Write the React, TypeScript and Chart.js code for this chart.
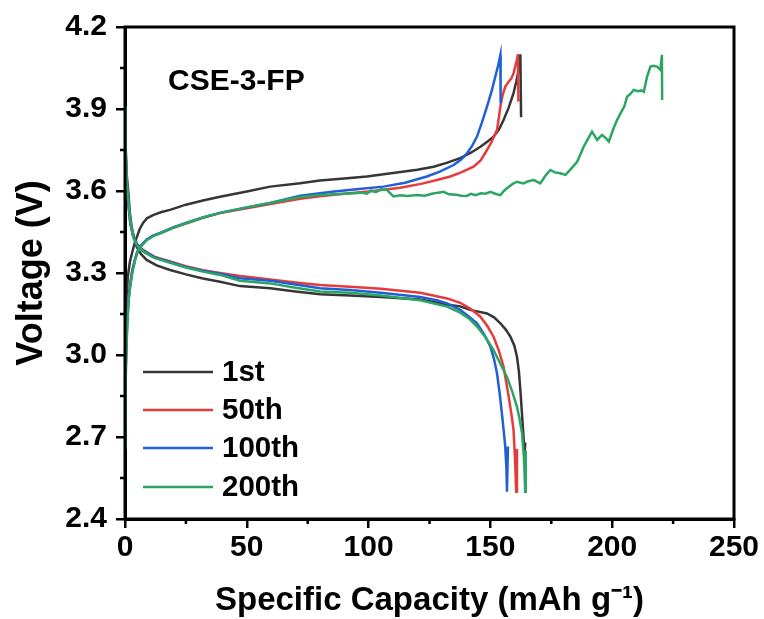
import React, { useEffect, useRef } from "react";
import { Chart, registerables } from "chart.js";

Chart.register(...registerables);

type Pt = [number, number];

const seriesLabels = ["1st", "50th", "100th", "200th"];
const seriesColors = ["#363636", "#e63b3b", "#1f60d6", "#2ba562"];

const xTicks = [0, 50, 100, 150, 200, 250];
const yTicks = [2.4, 2.7, 3.0, 3.3, 3.6, 3.9, 4.2];

const charge1st: Pt[] = [
  [0, 2.9], [0.3, 3.1], [0.7, 3.22], [1.2, 3.29], [2, 3.34], [2.9, 3.373], [4, 3.41], [4.9, 3.432],
  [6, 3.46], [7.4, 3.483], [9, 3.5], [11.5, 3.512], [15, 3.523], [18.5, 3.531], [25, 3.55], [32, 3.565],
  [39, 3.579], [50, 3.598], [59.6, 3.616], [71.9, 3.628], [80, 3.638], [90, 3.646], [99.3, 3.653],
  [110, 3.666], [120, 3.678], [126.7, 3.689], [132, 3.703], [137.6, 3.72], [142, 3.74], [145.9, 3.762],
  [149, 3.782], [151.3, 3.799], [153.5, 3.825], [155.4, 3.86], [157.5, 3.905], [159.5, 3.958],
  [160.6, 4.0], [161.6, 4.043], [162.3, 4.1], [162.6, 3.87],
];
const discharge1st: Pt[] = [
  [0, 3.85], [0.3, 3.75], [0.7, 3.66], [1.4, 3.592], [2, 3.52], [2.7, 3.47], [3.7, 3.43], [4.8, 3.396],
  [6.5, 3.37], [8.9, 3.348], [13, 3.328], [18.5, 3.311], [25, 3.295], [32, 3.28], [39, 3.268],
  [47.2, 3.252], [59.6, 3.244], [70, 3.232], [80.1, 3.222], [92.4, 3.218], [105, 3.212], [121.2, 3.203],
  [132, 3.185], [137.6, 3.178], [141.7, 3.165], [148.6, 3.152], [151.5, 3.138], [154.1, 3.116],
  [156.3, 3.093], [158.2, 3.067], [159.8, 3.035], [160.9, 2.994], [161.7, 2.94], [162.3, 2.872],
  [163, 2.78], [163.6, 2.701], [164.0, 2.63], [164.3, 2.68],
];

const charge50th: Pt[] = [
  [0, 2.8], [0.3, 2.95], [0.8, 3.1], [1.4, 3.2], [2, 3.25], [3, 3.31], [4.1, 3.348], [5, 3.375],
  [6.2, 3.396], [8.9, 3.421], [11.5, 3.436], [14.4, 3.445], [20, 3.466], [25.3, 3.482], [32, 3.502],
  [39, 3.519], [50, 3.537], [59.6, 3.552], [71.9, 3.572], [80, 3.581], [90, 3.59], [100, 3.598],
  [113, 3.612], [122, 3.627], [128, 3.64], [133.5, 3.653], [138, 3.668], [143.1, 3.689], [146, 3.712],
  [148.6, 3.75], [150.5, 3.78], [152.7, 3.823], [153.5, 3.87], [154.1, 3.909], [155, 3.95],
  [156.1, 3.982], [157.5, 4.0], [158.5, 4.01], [159.5, 4.03], [160.3, 4.06], [160.9, 4.08],
  [161.3, 4.1], [161.5, 3.927],
];
const discharge50th: Pt[] = [
  [0, 3.85], [0.3, 3.72], [0.7, 3.62], [1.4, 3.55], [2.2, 3.48], [3.4, 3.433], [5, 3.405], [7.5, 3.384],
  [12, 3.36], [18.5, 3.342], [25, 3.325], [32, 3.31], [39, 3.3], [47.2, 3.289], [59.6, 3.276],
  [70, 3.265], [80.1, 3.256], [92.4, 3.25], [105, 3.242], [121.2, 3.228], [132.2, 3.207],
  [137.6, 3.191], [142, 3.168], [145.9, 3.14], [148.8, 3.105], [151.3, 3.067], [153.5, 3.015],
  [155.4, 2.957], [156.5, 2.9], [157.5, 2.848], [158.6, 2.785], [159.5, 2.726], [160.1, 2.62],
  [160.6, 2.5], [160.9, 2.656],
];

const charge100th: Pt[] = [
  [0, 2.75], [0.3, 2.95], [0.8, 3.1], [1.4, 3.2], [2, 3.25], [3, 3.31], [4.1, 3.35], [5, 3.377],
  [6.2, 3.398], [8.9, 3.423], [11.5, 3.437], [14.4, 3.447], [20, 3.468], [25.3, 3.484], [32, 3.503],
  [39, 3.52], [50, 3.54], [59.6, 3.556], [71.9, 3.583], [85, 3.597], [95, 3.606], [106.1, 3.616],
  [115, 3.63], [123.9, 3.653], [129, 3.67], [134.9, 3.695], [138, 3.715], [140.4, 3.738],
  [142.5, 3.765], [144.5, 3.799], [146.5, 3.85], [148.6, 3.909], [150.5, 3.965], [152, 4.018],
  [153.2, 4.06], [154.1, 4.098], [154.2, 3.921],
];
const discharge100th: Pt[] = [
  [0, 3.85], [0.3, 3.73], [0.7, 3.63], [1.4, 3.55], [2.2, 3.48], [3.4, 3.433], [5, 3.404], [7.5, 3.382],
  [12, 3.358], [18.5, 3.34], [25, 3.322], [32, 3.308], [39, 3.297], [47.2, 3.281], [59.6, 3.272],
  [70, 3.258], [80.1, 3.244], [92.4, 3.238], [105, 3.228], [121.2, 3.212], [128, 3.2],
  [132.2, 3.189], [134.9, 3.177], [137.6, 3.165], [141, 3.142], [144.5, 3.116], [147.5, 3.075],
  [150, 3.03], [151.5, 2.985], [152.7, 2.933], [153.8, 2.86], [154.7, 2.787], [155.5, 2.72],
  [156.1, 2.665], [156.6, 2.58], [156.8, 2.5], [157.2, 2.665],
];

const charge200th: Pt[] = [
  [0, 2.66], [0.2, 2.85], [0.5, 3.0], [1, 3.12], [1.5, 3.2], [2, 3.24], [3, 3.3], [4.1, 3.345],
  [5, 3.372], [6.2, 3.394], [8.9, 3.42], [11.5, 3.435], [14.4, 3.445], [20, 3.466], [25.3, 3.483],
  [32, 3.503], [39, 3.52], [50, 3.54], [59.6, 3.556], [71.9, 3.578], [80, 3.585], [90, 3.59],
  [97, 3.594], [99.3, 3.59], [101, 3.602], [103, 3.596], [105, 3.606], [107.5, 3.604], [110.2, 3.58],
  [113, 3.584], [116, 3.582], [119.8, 3.585], [123, 3.583], [126, 3.59], [128.5, 3.594],
  [130.8, 3.597], [133, 3.588], [136, 3.586], [138, 3.583], [140.4, 3.582], [142, 3.59], [144, 3.585],
  [146, 3.592], [148, 3.59], [150, 3.597], [152, 3.59], [154.1, 3.585], [155.5, 3.6], [156.8, 3.61],
  [159, 3.625], [160.9, 3.634], [163.6, 3.628], [165.5, 3.636], [167.8, 3.64], [170.5, 3.628],
  [172.5, 3.655], [174.6, 3.677], [176.5, 3.668], [178.7, 3.665], [180.8, 3.659], [183, 3.68],
  [185.6, 3.707], [187, 3.735], [188.3, 3.762], [190, 3.79], [191.7, 3.817], [193.8, 3.787],
  [195.8, 3.805], [197.2, 3.795], [198.6, 3.781], [200.6, 3.83], [202, 3.86], [203.4, 3.884],
  [205, 3.91], [206.1, 3.945], [207.5, 3.955], [208.8, 3.97], [210.5, 3.965], [212, 3.968],
  [213, 3.963], [214.3, 4.018], [215.7, 4.055], [217, 4.058], [218.4, 4.055], [219.8, 4.043],
  [220.4, 4.098], [220.5, 3.933],
];
const discharge200th: Pt[] = [
  [0, 3.91], [0.3, 3.76], [0.7, 3.64], [1.4, 3.56], [2.2, 3.49], [3.4, 3.43], [5, 3.4], [7.5, 3.378],
  [12, 3.355], [18.5, 3.337], [25, 3.32], [32, 3.305], [39, 3.293], [47.2, 3.272], [59.6, 3.262],
  [70, 3.246], [80.1, 3.232], [92.4, 3.228], [105, 3.218], [121.2, 3.2], [132.2, 3.177],
  [137.6, 3.155], [141, 3.135], [144.5, 3.104], [148, 3.065], [151.3, 3.018], [154, 2.97],
  [156.8, 2.92], [159, 2.865], [160.9, 2.811], [162, 2.765], [163, 2.714], [163.8, 2.62],
  [164.3, 2.5], [164.5, 2.65],
];

const chargeSets = [charge1st, charge50th, charge100th, charge200th];
const dischargeSets = [discharge1st, discharge50th, discharge100th, discharge200th];

const FONT = '"Liberation Sans", Arial, sans-serif';

const framePlugin = {
  id: "frameAndExtras",
  afterDatasetsDraw(chart: any) {
    const { ctx, chartArea } = chart;
    const xs = chart.scales.x;
    const ys = chart.scales.y;
    ctx.save();
    ctx.strokeStyle = "#000";
    ctx.lineWidth = 3;
    ctx.strokeRect(chartArea.left, chartArea.top, chartArea.right - chartArea.left, chartArea.bottom - chartArea.top);
    ctx.lineWidth = 2.5;
    ctx.beginPath();
    for (let i = 0; i < xTicks.length - 1; i++) {
      const px = xs.getPixelForValue((xTicks[i] + xTicks[i + 1]) / 2);
      ctx.moveTo(px, chartArea.bottom);
      ctx.lineTo(px, chartArea.bottom + 5);
    }
    for (let i = 0; i < yTicks.length - 1; i++) {
      const py = ys.getPixelForValue((yTicks[i] + yTicks[i + 1]) / 2);
      ctx.moveTo(chartArea.left, py);
      ctx.lineTo(chartArea.left - 5, py);
    }
    ctx.stroke();
    ctx.fillStyle = "#000";
    ctx.font = `bold 30px ${FONT}`;
    ctx.textBaseline = "middle";
    ctx.textAlign = "left";
    ctx.fillText("CSE-3-FP", chartArea.left + 43, chartArea.top + 55);
    const rows = [345, 383, 421, 460];
    ctx.font = `bold 29.5px ${FONT}`;
    for (let i = 0; i < seriesLabels.length; i++) {
      const y = chartArea.top + rows[i];
      ctx.strokeStyle = seriesColors[i];
      ctx.lineWidth = 2.5;
      ctx.beginPath();
      ctx.moveTo(chartArea.left + 18, y);
      ctx.lineTo(chartArea.left + 88, y);
      ctx.stroke();
      ctx.fillStyle = "#000";
      ctx.fillText(seriesLabels[i], chartArea.left + 97, y + 1);
    }
    ctx.restore();
  },
};

export default function App() {
  const ref = useRef<HTMLCanvasElement | null>(null);
  useEffect(() => {
    if (!ref.current) return;
    const datasets: any[] = [];
    seriesLabels.forEach((label, i) => {
      [chargeSets[i], dischargeSets[i]].forEach((arr, k) => {
        datasets.push({
          label: label + (k === 0 ? " charge" : " discharge"),
          data: arr.map(([x, y]) => ({ x, y })),
          borderColor: seriesColors[i],
          backgroundColor: seriesColors[i],
          borderWidth: 2.5,
          pointRadius: 0,
          showLine: true,
          tension: 0,
          order: 3 - i,
        });
      });
    });
    const chart = new Chart(ref.current, {
      type: "scatter",
      data: { datasets },
      plugins: [framePlugin],
      options: {
        responsive: false,
        animation: false,
        devicePixelRatio: 1,
        layout: { padding: { top: 27, right: 30, left: 0, bottom: 0 } },
        plugins: { legend: { display: false }, tooltip: { enabled: false } },
        scales: {
          x: {
            type: "linear",
            min: 0,
            max: 250,
            afterFit: (s: any) => { s.height = 100; },
            afterBuildTicks: (s: any) => { s.ticks = xTicks.map((v) => ({ value: v })); },
            ticks: {
              color: "#000",
              padding: 2,
              font: { family: FONT, size: 30, weight: "bold" },
              callback: (v: any) => String(v),
            },
            grid: { drawOnChartArea: false, drawTicks: true, tickLength: 9, lineWidth: 2.5, color: "#000" },
            border: { display: true, color: "#000", width: 3 },
            title: {
              display: true,
              text: "Specific Capacity (mAh g\u207B\u00B9)",
              color: "#000",
              font: { family: FONT, size: 33, weight: "bold" },
              padding: { top: 0, bottom: -2 },
            },
          },
          y: {
            type: "linear",
            min: 2.4,
            max: 4.2,
            afterFit: (s: any) => { s.width = 125; },
            afterBuildTicks: (s: any) => { s.ticks = yTicks.map((v) => ({ value: v })); },
            ticks: {
              color: "#000",
              padding: 9,
              font: { family: FONT, size: 30, weight: "bold" },
              callback: (v: any) => Number(v).toFixed(1),
            },
            grid: { drawOnChartArea: false, drawTicks: true, tickLength: 9, lineWidth: 2.5, color: "#000" },
            border: { display: true, color: "#000", width: 3 },
            title: {
              display: true,
              text: "Voltage (V)",
              color: "#000",
              font: { family: FONT, size: 36, weight: "bold" },
              padding: { top: 10, bottom: 0 },
            },
          },
        },
      } as any,
    });
    return () => chart.destroy();
  }, []);
  return (
    <div style={{ position: "fixed", left: 0, top: 0, width: 764, height: 619, background: "#fff" }}>
      <canvas ref={ref} width={764} height={619} style={{ width: 764, height: 619, display: "block" }} />
    </div>
  );
}
